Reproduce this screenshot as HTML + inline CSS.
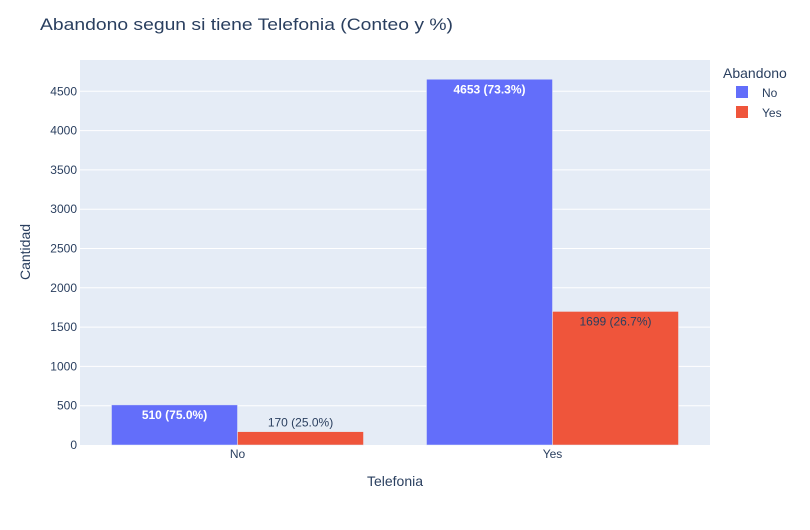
<!DOCTYPE html>
<html><head><meta charset="utf-8"><style>
body{margin:0;background:#fff;font-family:"Liberation Sans",sans-serif}
</style></head><body>
<svg id="c" width="810" height="525" style="font-family:'Liberation Sans',sans-serif">
<rect x="80" y="60" width="630" height="385" fill="#e5ecf6"/>
<g id="grid"></g><g id="bars"></g><g id="labels"></g>
<text x="40" y="30" font-size="17" fill="#2a3f5f" textLength="413" lengthAdjust="spacingAndGlyphs">Abandono segun si tiene Telefonia (Conteo y %)</text>
<text x="395" y="486" font-size="14" fill="#2a3f5f" text-anchor="middle">Telefonia</text>
<text transform="translate(30,252) rotate(-90)" font-size="14" fill="#2a3f5f" text-anchor="middle">Cantidad</text>
<text x="723" y="78" font-size="14" fill="#2a3f5f">Abandono</text>
<g><rect x="736" y="86" width="12" height="12" fill="#636efa"/><text x="762" y="97" font-size="12" fill="#2a3f5f">No</text></g>
<g><rect x="736" y="106" width="12" height="12" fill="#ef553b"/><text x="762" y="117" font-size="12" fill="#2a3f5f">Yes</text></g>
</svg>
<script>
const categories=["No","Yes"];
const noValues=[510,4653];
const yesValues=[170,1699];
const noPct=["75.0%","73.3%"];
const yesPct=["25.0%","26.7%"];
const yTicks=[0,500,1000,1500,2000,2500,3000,3500,4000,4500];
const NS="http://www.w3.org/2000/svg";
const x0=80,x1=710,y0=445,y1=60,yMax=4898;
const ys=v=>y0-(v/yMax)*(y0-y1);
const band=(x1-x0)/categories.length;
const cx=i=>x0+band*(i+0.5);
function mk(t,a,p,txt){const e=document.createElementNS(NS,t);for(const k in a)e.setAttribute(k,a[k]);if(txt!==undefined)e.textContent=txt;p.appendChild(e);return e;}
const g=document.getElementById('grid'),b=document.getElementById('bars'),l=document.getElementById('labels');
yTicks.forEach(v=>{
 if(v>0){const ln=mk('line',{x1:x0,x2:x1,y1:ys(v),y2:ys(v),stroke:'#fff','stroke-width':1},g);
 
 }
 const t=mk('text',{x:x0-3,y:ys(v)+4,'font-size':12,fill:'#2a3f5f','text-anchor':'end'},g,String(v));
 
 
});
categories.forEach((c,i)=>{
 const t=mk('text',{x:cx(i),y:y0+13,'font-size':12,fill:'#2a3f5f','text-anchor':'middle'},g,c);
 
 
 const w=band*0.4;
 [[noValues,noPct,'#636efa',-1,'no'],[yesValues,yesPct,'#ef553b',0,'yes']].forEach(([vals,pct,col,off,nm])=>{
  const bx=cx(i)+off*w, by=ys(vals[i]), h=y0-by;
  const r=mk('rect',{x:bx,y:by,width:w,height:h,fill:col,stroke:'#e5ecf6','stroke-width':0.5},b);
  
  
  const label=vals[i]+' ('+pct[i]+')';
  const inside=h>30;
  const tl=mk('text',{x:bx+w/2,y:inside?by+14:by-5,'font-size':12,'text-anchor':'middle',fill:inside?(nm==='no'?'#fff':'#2a3f5f'):'#2a3f5f','font-weight':nm==='no'?'bold':'normal'},l,label);
  
  
 });
});
</script>
</body></html>
